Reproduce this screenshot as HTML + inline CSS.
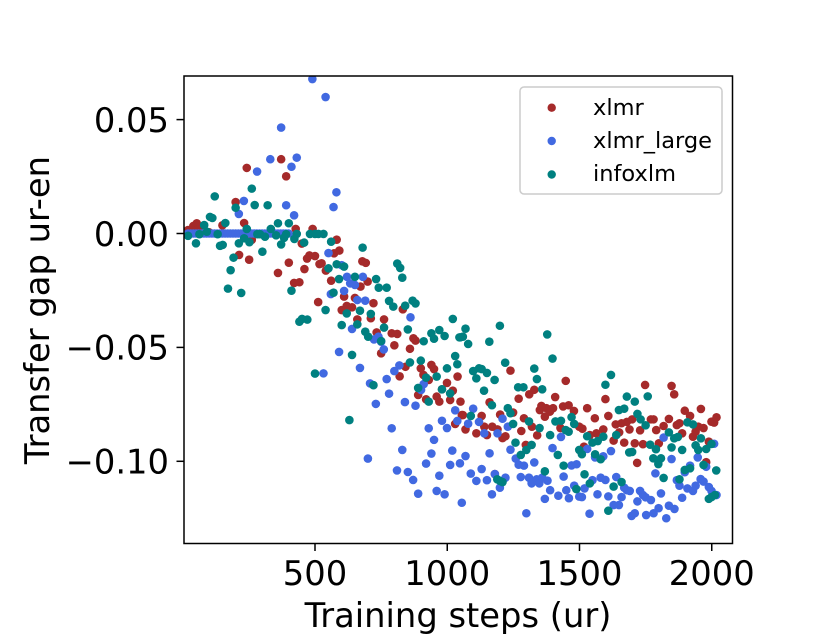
<!DOCTYPE html>
<html>
<head>
<meta charset="utf-8">
<title>Transfer gap ur-en</title>
<style>
html,body{margin:0;padding:0;background:#fff;}
svg{display:block;}
text{font-family:"DejaVu Sans","Liberation Sans",sans-serif;fill:#000;}
</style>
</head>
<body>
<svg id="chart" width="814" height="636" viewBox="0 0 814 636" xmlns="http://www.w3.org/2000/svg">
<defs><clipPath id="plot-clip"><rect x="184" y="76" width="548.5" height="467.5"/></clipPath></defs>
<rect x="184" y="76" width="548.5" height="467.5" fill="#fff"/>
<g id="marks" clip-path="url(#plot-clip)"></g>
<rect x="184" y="76" width="548.5" height="467.5" fill="none" stroke="#000" stroke-width="1.5"/>
<g id="axes"></g>
<text x="458" y="627" text-anchor="middle" style="font-size:33.75px">Training steps (ur)</text>
<text transform="translate(49,310) rotate(-90)" text-anchor="middle" style="font-size:33.75px">Transfer gap ur-en</text>
<g id="legend">
<rect x="520" y="87" width="202" height="107" rx="4" fill="#fff" fill-opacity="0.8" stroke="#ccc" stroke-width="1.5"/>
<circle cx="551.7" cy="107.7" r="4.2" fill="#a52a2a"/>
<text x="593" y="115" style="font-size:22.5px">xlmr</text>
<circle cx="551.7" cy="141" r="4.2" fill="#4169e1"/>
<text x="593" y="148" style="font-size:22.5px">xlmr_large</text>
<circle cx="551.7" cy="174.5" r="4.2" fill="#008080"/>
<text x="593" y="181" style="font-size:22.5px">infoxlm</text>
</g>
</svg>
<script>
const xTickValues = [500, 1000, 1500, 2000];
const xTickLabels = ["500", "1000", "1500", "2000"];
const yTickValues = [0.05, 0, -0.05, -0.10];
const yTickLabels = ["0.05", "0.00", "\u22120.05", "\u22120.10"];

const xlmrSteps = [20,30,40,53,60,100,150,200,213,232,242,251,261,372,391,427,450,460,470,479,491,500,401,360,421,441,512,517,525,541,561,572,582,592,601,610,620,640,651,660,672,679,692,699,711,721,733,750,761,790,800,811,820,832,842,859,872,880,890,900,910,920,930,940,950,960,970,980,999,1011,1021,1030,1039,1050,1055,1059,1069,1110,1130,1140,1150,1160,1170,1180,1190,1200,1209,1220,1239,1249,1270,1280,1290,1297,1310,1320,1329,1340,1350,1356,1369,1375,1388,1400,1408,1428,1438,1448,1459,1479,1499,1511,1517,1529,1539,1558,1564,1590,1598,1609,1629,1637,1650,1659,1669,1679,1689,1699,1709,1718,1729,1740,1748,1770,1780,1790,1800,1818,1838,1848,1858,1868,1878,1888,1898,1918,1929,1939,1949,1959,1969,1979,1989,1999,2009,2018];
const xlmrGaps = [0.0015,0.001,0.0033,0.0045,0.002,0.0005,0.0036,0.0138,-0.0094,0.0046,0.0288,-0.0115,-0.0028,0.0326,0.0251,0.0020,-0.0044,-0.0156,-0.0110,-0.0096,0.0020,-0.0099,-0.0128,-0.0173,-0.0217,-0.0214,-0.0301,-0.0134,-0.0131,-0.0163,-0.0207,-0.0087,-0.0027,-0.0075,-0.0336,-0.0277,-0.0318,-0.0324,-0.0283,-0.0377,-0.0233,-0.0122,-0.0129,-0.0211,-0.0372,-0.0306,-0.0434,-0.0526,-0.0377,-0.0438,-0.0491,-0.0441,-0.0627,-0.0333,-0.0585,-0.0506,-0.0460,-0.0470,-0.0709,-0.0592,-0.0621,-0.0728,-0.0643,-0.0577,-0.0595,-0.0716,-0.0738,-0.0684,-0.0656,-0.0731,-0.0690,-0.0836,-0.0628,-0.0738,-0.0797,-0.0797,-0.0860,-0.0877,-0.0801,-0.0848,-0.0885,-0.0741,-0.0848,-0.1056,-0.0860,-0.0795,-0.0898,-0.0890,-0.0602,-0.0786,-0.0725,-0.0867,-0.0811,-0.0928,-0.0706,-0.0848,-0.0686,-0.0886,-0.0775,-0.0757,-0.0804,-0.0767,-0.0782,-0.0767,-0.0718,-0.0854,-0.0759,-0.0647,-0.0754,-0.0779,-0.0848,-0.0857,-0.0936,-0.0767,-0.0885,-0.0811,-0.0877,-0.0860,-0.0727,-0.0801,-0.0909,-0.0838,-0.0873,-0.0833,-0.0918,-0.0827,-0.0860,-0.0816,-0.0921,-0.1007,-0.0864,-0.0925,-0.0665,-0.0816,-0.0816,-0.0863,-0.0921,-0.0845,-0.0814,-0.0669,-0.0706,-0.0841,-0.0833,-0.0877,-0.0778,-0.0801,-0.0892,-0.0870,-0.0848,-0.0770,-0.0854,-0.1004,-0.0914,-0.0826,-0.0830,-0.0807];

const largeSteps = [20,30,40,50,60,70,80,90,100,110,120,130,140,150,160,170,180,190,200,210,220,230,240,250,260,270,280,290,300,310,320,330,340,350,360,370,380,390,400,490,540,372,331,431,411,281,231,212,391,421,581,570,551,621,681,633,651,610,560,660,690,601,640,861,740,723,750,760,591,670,532,708,819,800,771,780,730,840,880,901,911,1030,980,999,930,790,950,830,940,1019,700,920,1011,1048,810,851,970,871,960,990,890,1055,1038,1069,1089,1130,1110,1150,1180,1220,1199,1169,1098,1079,1120,1140,1190,1209,1229,1160,1239,1259,1270,1290,1329,1278,1309,1319,1338,1348,1359,1379,1389,1369,1420,1450,1460,1299,1398,1430,1440,1470,1489,1480,1499,1509,1519,1549,1580,1598,1568,1609,1639,1659,1649,1629,1538,1529,1559,1590,1619,1669,1679,1690,1729,1740,1719,1750,1770,1808,1697,1709,1752,1780,1799,1838,1859,1828,1888,1787,1848,1818,1868,1878,1908,1918,1898,1929,1939,1958,1969,1989,1999,2018,1979,1947,2009];
const largeGaps = [0,0,0,0,0,0,0,0,0,0,0,0,0,0,0,0,0,0,0,0,0,0,0,0,0,0,0,0,0,0,0,0,0,0,0,0,0,0,0,0.0678,0.0599,0.0465,0.0326,0.0333,0.0293,0.0272,0.0143,0.0086,0.0124,0.0080,0.0181,0.0116,-0.0086,-0.0190,-0.0190,-0.0219,-0.0226,-0.0252,-0.0266,-0.0292,-0.0295,-0.0139,-0.0419,-0.0368,-0.0453,-0.0465,-0.0475,-0.0509,-0.0520,-0.0590,-0.0614,-0.0658,-0.0579,-0.0604,-0.0639,-0.0703,-0.0748,-0.0740,-0.0756,-0.0687,-0.0661,-0.0776,-0.0822,-0.0854,-0.0855,-0.0855,-0.0906,-0.0950,-0.0966,-0.0953,-0.0988,-0.1010,-0.1016,-0.1009,-0.1040,-0.1047,-0.1063,-0.1082,-0.1130,-0.1145,-0.1142,-0.1182,-0.0823,-0.0977,-0.1054,-0.1034,-0.1086,-0.1083,-0.1056,-0.1072,-0.1116,-0.1145,-0.0769,-0.0835,-0.0827,-0.0877,-0.0877,-0.0813,-0.0848,-0.0965,-0.0949,-0.0988,-0.1015,-0.1019,-0.1005,-0.1069,-0.1072,-0.1097,-0.1079,-0.1097,-0.1072,-0.1085,-0.1127,-0.1165,-0.1151,-0.1127,-0.1162,-0.1228,-0.0942,-0.0893,-0.1067,-0.1018,-0.1013,-0.1107,-0.1155,-0.1157,-0.1119,-0.1083,-0.1072,-0.1082,-0.1145,-0.1154,-0.1069,-0.1157,-0.1192,-0.1192,-0.1230,-0.0946,-0.0983,-0.0978,-0.0955,-0.1116,-0.1127,-0.1130,-0.1130,-0.1148,-0.1176,-0.1158,-0.1170,-0.1141,-0.1240,-0.1228,-0.1236,-0.1228,-0.1206,-0.1195,-0.1209,-0.1250,-0.1160,-0.1053,-0.0990,-0.0896,-0.1083,-0.1107,-0.1119,-0.1019,-0.1048,-0.1130,-0.1107,-0.1078,-0.1089,-0.1113,-0.1130,-0.1148,-0.1024,-0.0983,-0.0923];

const infoSteps = [121,261,272,321,200,103,112,81,161,360,401,242,333,91,63,20,50,132,141,151,212,232,252,282,292,311,353,372,391,383,422,431,459,481,500,513,532,561,680,301,192,181,171,221,411,582,610,551,811,822,830,591,651,731,741,771,570,780,841,869,880,796,540,670,441,451,471,620,711,601,660,761,690,701,851,750,940,970,990,950,911,1021,1046,640,1030,859,900,1038,999,960,920,500,721,890,980,1011,930,630,1069,1049,1059,1079,1199,1159,1378,1219,1398,1098,1110,1120,1130,1150,1179,1329,1339,1268,1288,1359,1139,1169,1229,1239,1089,1249,1309,1349,1389,1409,1430,1470,1480,1448,1459,1258,1319,1299,1278,1418,1499,1509,1529,1549,1569,1590,1559,1580,1639,1598,1619,1679,1709,1758,1649,1669,1719,1731,1750,1688,1699,1767,1789,1779,1808,1798,1838,1858,1872,1848,1888,1908,1929,1959,1939,1949,1979,1999,1969,2017,1898,1918,1878,1818,1369,1440,1519,1539,1488,1629,1659,1609,1189,1199,1209,1989,1999,2012];
const infoGaps = [0.0163,0.0197,0.0125,0.0124,0.0113,0.0073,0.0068,0.0037,0.0046,0.0045,0.0045,0.0020,0.0020,0.0008,-0.0003,-0.0010,-0.0043,-0.0003,-0.0054,-0.0050,-0.0043,-0.0021,-0.0038,-0.0003,-0.0003,-0.0014,-0.0008,-0.0048,-0.0003,-0.0019,-0.0024,-0.0002,-0.0040,-0.0002,-0.0002,-0.0002,-0.0002,-0.0036,-0.0062,-0.0080,-0.0106,-0.0161,-0.0242,-0.0261,-0.0251,-0.0135,-0.0145,-0.0153,-0.0132,-0.0151,-0.0194,-0.0200,-0.0190,-0.0200,-0.0238,-0.0238,-0.0260,-0.0296,-0.0317,-0.0295,-0.0307,-0.0321,-0.0336,-0.0339,-0.0387,-0.0375,-0.0378,-0.0351,-0.0353,-0.0402,-0.0399,-0.0413,-0.0431,-0.0453,-0.0421,-0.0472,-0.0438,-0.0424,-0.0450,-0.0462,-0.0473,-0.0375,-0.0456,-0.0533,-0.0538,-0.0566,-0.0558,-0.0574,-0.0592,-0.0628,-0.0633,-0.0615,-0.0666,-0.0678,-0.0684,-0.0702,-0.0738,-0.0819,-0.0418,-0.0456,-0.0453,-0.0485,-0.0405,-0.0475,-0.0443,-0.0567,-0.0549,-0.0604,-0.0636,-0.0592,-0.0595,-0.0612,-0.0643,-0.0593,-0.0639,-0.0675,-0.0675,-0.0684,-0.0690,-0.0754,-0.0767,-0.0789,-0.0801,-0.0836,-0.0825,-0.0854,-0.0885,-0.0825,-0.0822,-0.0806,-0.0836,-0.0863,-0.0870,-0.0918,-0.0928,-0.0950,-0.0972,-0.0972,-0.0950,-0.0969,-0.0890,-0.0918,-0.0911,-0.0892,-0.0969,-0.0991,-0.0885,-0.0664,-0.0621,-0.0716,-0.0738,-0.0715,-0.0775,-0.0769,-0.0792,-0.0816,-0.0842,-0.0961,-0.0959,-0.0927,-0.0947,-0.0987,-0.0987,-0.1012,-0.0873,-0.0899,-0.0893,-0.0939,-0.0950,-0.0829,-0.0838,-0.0899,-0.0930,-0.0950,-0.0946,-0.0924,-0.1016,-0.1040,-0.1038,-0.1031,-0.1079,-0.1073,-0.1044,-0.1019,-0.1057,-0.1097,-0.1122,-0.1111,-0.1091,-0.1217,-0.1079,-0.1086,-0.1091,-0.1165,-0.1157,-0.1148];

const SVG_NS = "http://www.w3.org/2000/svg";
function xScale(step) { return 315 + (step - 500) * 0.2645; }
function yScale(gap) { return 233.5 - gap * 2278; }

const marksGroup = document.getElementById("marks");
const axesGroup = document.getElementById("axes");

function drawSeries(steps, gaps, color, pointName) {
  for (let i = 0; i < steps.length; i++) {
    const c = document.createElementNS(SVG_NS, "circle");
    c.setAttribute("cx", xScale(steps[i]));
    c.setAttribute("cy", yScale(gaps[i]));
    c.setAttribute("r", 4.3);
    c.setAttribute("fill", color);
    
    
    marksGroup.appendChild(c);
  }
}
drawSeries(xlmrSteps, xlmrGaps, "#a52a2a", "xlmr-point");
drawSeries(largeSteps, largeGaps, "#4169e1", "xlmr-large-point");
drawSeries(infoSteps, infoGaps, "#008080", "infoxlm-point");

xTickValues.forEach(function (v, i) {
  const px = xScale(v);
  const tick = document.createElementNS(SVG_NS, "line");
  tick.setAttribute("x1", px);
  tick.setAttribute("x2", px);
  tick.setAttribute("y1", 543.5);
  tick.setAttribute("y2", 551);
  tick.setAttribute("stroke", "#000");
  tick.setAttribute("stroke-width", 1.5);
  
  
  axesGroup.appendChild(tick);
  const label = document.createElementNS(SVG_NS, "text");
  label.setAttribute("x", px);
  label.setAttribute("y", 585);
  label.setAttribute("text-anchor", "middle");
  label.style.fontSize = "33.75px";
  
  
  label.textContent = xTickLabels[i];
  axesGroup.appendChild(label);
});

yTickValues.forEach(function (v, i) {
  const py = yScale(v);
  const tick = document.createElementNS(SVG_NS, "line");
  tick.setAttribute("x1", 176.5);
  tick.setAttribute("x2", 184);
  tick.setAttribute("y1", py);
  tick.setAttribute("y2", py);
  tick.setAttribute("stroke", "#000");
  tick.setAttribute("stroke-width", 1.5);
  
  
  axesGroup.appendChild(tick);
  const label = document.createElementNS(SVG_NS, "text");
  label.setAttribute("x", 169);
  label.setAttribute("y", py + 12.3);
  label.setAttribute("text-anchor", "end");
  label.style.fontSize = "33.75px";
  
  
  label.textContent = yTickLabels[i];
  axesGroup.appendChild(label);
});
</script>
</body>
</html>
